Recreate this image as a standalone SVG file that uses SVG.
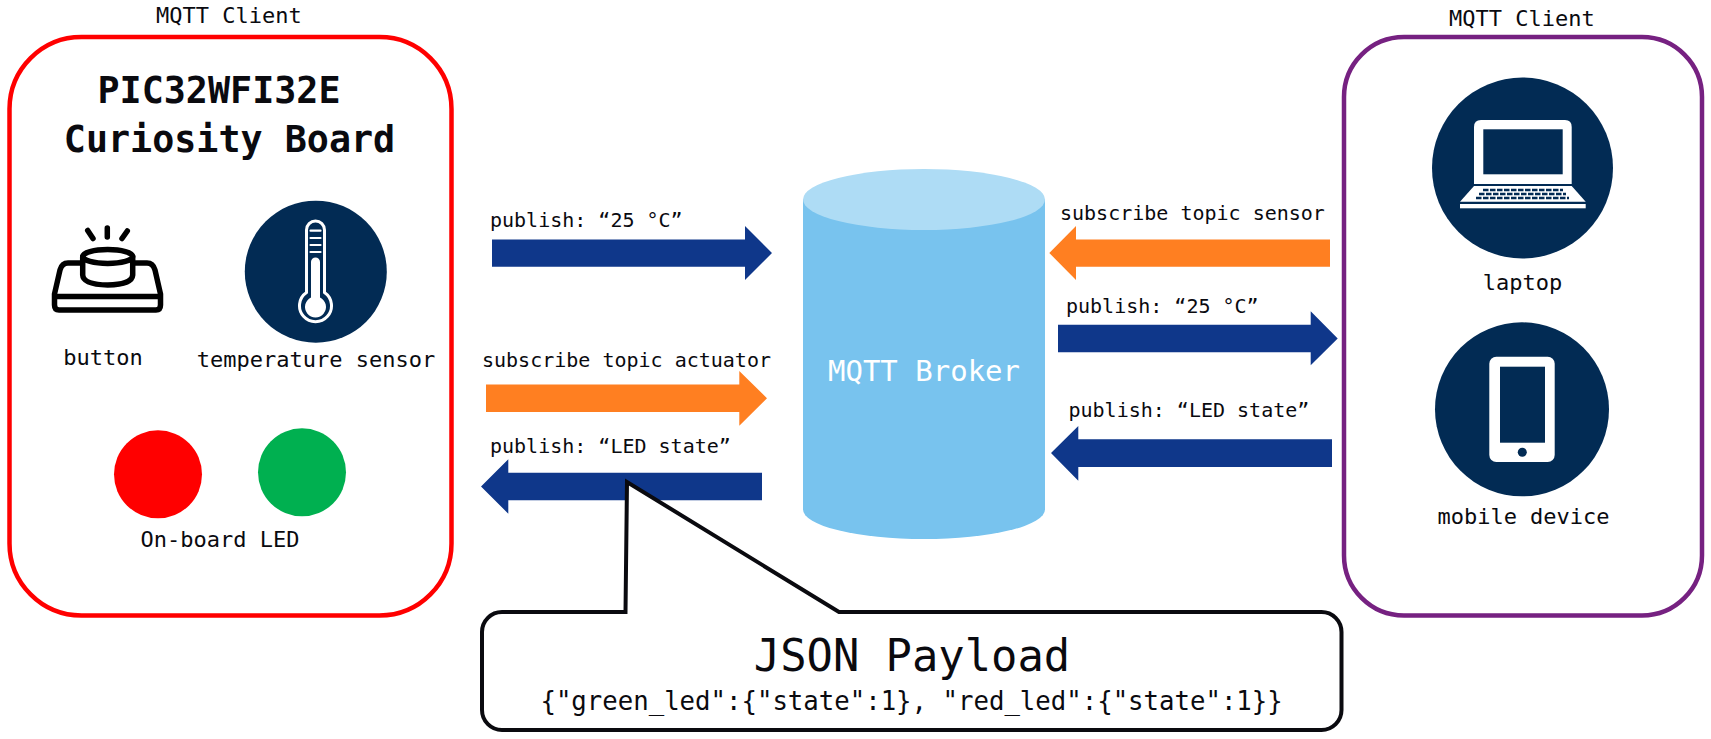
<svg xmlns="http://www.w3.org/2000/svg" width="1711" height="739" viewBox="0 0 1711 739">
<style>
text{font-family:"DejaVu Sans Mono","Liberation Mono",monospace;fill:#0a0a0f}
.lbl{font-size:20px}
.cap{font-size:22px}
.title{font-size:36.700px;font-weight:700}
.blue{fill:#0f378a}
.orange{fill:#ff7f21}
.box{fill:#fff;stroke-width:4.500}
.navy{fill:#022b54}
.w{fill:#fff}
.ws{fill:none;stroke:#fff;stroke-linecap:round}
.k{fill:none;stroke:#000;stroke-width:5.500;stroke-linecap:round;stroke-linejoin:round}
</style>
<rect width="1711" height="739" fill="#fff"/>

<g id="board-client">
<text class="cap" x="156" y="22.500">MQTT Client</text>
<rect class="box" x="9.500" y="37" width="442" height="578.500" rx="72" ry="72" stroke="#ff0000"/>
<text class="title" x="219" y="103" text-anchor="middle">PIC32WFI32E</text>
<text class="title" x="229.500" y="152" text-anchor="middle">Curiosity Board</text>
</g>

<g id="button">
<path class="k" d="M87.700,230.500L93,238.500M107.300,228V237M127.300,231L122,238.500"/>
<path class="k" d="M81,263H68Q62,263 60,270L54.500,294V305Q54.500,310 59,310H156Q160.500,310 160.500,305V294L155,270Q153,263 147,263H134"/>
<path class="k" d="M55,296.500H160"/>
<ellipse cx="107.700" cy="256.500" rx="25" ry="7" fill="#fff" stroke="#000" stroke-width="5.500"/>
<path class="k" d="M82.700,257V275Q83,284.500 107.700,285Q132,284.500 132.700,275V257"/>
<text class="cap" x="103" y="364.700" text-anchor="middle">button</text>
</g>

<g id="temperature-sensor">
<circle class="navy" cx="315.800" cy="271.700" r="71"/>
<path class="ws" stroke-width="3" d="M306.500,230A9,9 0 0 1 324.500,230V292.500A16,16 0 1 1 306.500,292.500Z"/>
<path class="ws" stroke-width="2.200" stroke-linecap="butt" d="M310.500,230.700H320.500M310.500,238H320.500M310.500,245H320.500M310.500,252H320.500"/>
<path class="w" d="M311,262A4.500,4.500 0 0 1 320,262V297.500A10.500,10.500 0 1 1 311,297.500Z"/>
<text class="cap" x="316" y="367.300" text-anchor="middle">temperature sensor</text>
</g>

<g id="on-board-led">
<circle cx="158" cy="474.300" r="44" fill="#ff0000"/>
<circle cx="302" cy="472.300" r="44" fill="#00b050"/>
<text class="cap" x="220" y="547.300" text-anchor="middle">On-board LED</text>
</g>

<g id="mqtt-broker">
<path d="M803,199V509.500A121,29.500 0 0 0 1045,509.500V199Z" fill="#78c3ee"/>
<ellipse cx="924" cy="199.500" rx="121" ry="30.500" fill="#aedcf5"/>
<text x="924" y="380.500" text-anchor="middle" style="font-size:29px;fill:#fff">MQTT Broker</text>
</g>

<g id="connectors">
<polygon class="blue" points="492,239.500 745,239.500 745,226 772,253 745,280 745,266.700 492,266.700"/>
<text class="lbl" x="490" y="226.500">publish: “25 °C”</text>
<polygon class="orange" points="486,384.500 739.300,384.500 739.300,371 767,398.300 739.300,425.700 739.300,412 486,412"/>
<text class="lbl" x="482" y="366.700">subscribe topic actuator</text>
<polygon class="blue" points="762,472.700 508.300,472.700 508.300,459.300 481,486.500 508.300,513.700 508.300,500.300 762,500.300"/>
<text class="lbl" x="490" y="452.700">publish: “LED state”</text>
<polygon class="orange" points="1330,239.500 1076,239.500 1076,226 1049.300,253 1076,280 1076,266.700 1330,266.700"/>
<text class="lbl" x="1060" y="220">subscribe topic sensor</text>
<polygon class="blue" points="1058,324.700 1310.700,324.700 1310.700,311.300 1337.700,338.500 1310.700,365.300 1310.700,352.300 1058,352.300"/>
<text class="lbl" x="1066" y="312.700">publish: “25 °C”</text>
<polygon class="blue" points="1332,439.300 1078.300,439.300 1078.300,426 1051,453 1078.300,480.700 1078.300,467 1332,467"/>
<text class="lbl" x="1068.500" y="416.700">publish: “LED state”</text>
</g>

<g id="mobile-client">
<text class="cap" x="1449" y="26">MQTT Client</text>
<rect class="box" x="1344" y="37" width="358" height="578.500" rx="60" ry="60" stroke="#762181" fill="none"/>
</g>

<g id="laptop">
<circle class="navy" cx="1522.500" cy="168" r="90.500"/>
<path class="w" d="M1474,184V127Q1474,120 1481,120H1565Q1571.700,120 1571.700,127V184Z"/>
<rect class="navy" x="1483.300" y="129.300" width="79.400" height="45"/>
<polygon class="w" points="1474,186 1571.700,186 1585.700,201.700 1460,201.700"/>
<rect class="w" x="1460" y="204" width="125.700" height="4.300"/>
<path d="M1483,190H1563M1479,194H1566M1476,198H1569" fill="none" stroke="#022b54" stroke-width="2.600" stroke-dasharray="5.500 1.500"/>
<text class="cap" x="1522.500" y="290" text-anchor="middle">laptop</text>
</g>

<g id="mobile-device">
<circle class="navy" cx="1522" cy="409.300" r="87"/>
<rect class="w" x="1489.300" y="356.700" width="65.400" height="105.300" rx="7"/>
<rect class="navy" x="1500" y="366.700" width="45" height="76"/>
<circle class="navy" cx="1522.300" cy="452.300" r="4.500"/>
<text class="cap" x="1523.500" y="524" text-anchor="middle">mobile device</text>
</g>

<g id="json-payload">
<path d="M502,612H625.500L627,482L839,612H1321.500A20,20 0 0 1 1341.500,632V710A20,20 0 0 1 1321.500,730H502A20,20 0 0 1 482,710V632A20,20 0 0 1 502,612Z" fill="#fff" stroke="#0a0a0f" stroke-width="4" stroke-linejoin="miter"/>
<text x="912" y="670.700" text-anchor="middle" style="font-size:43.800px">JSON Payload</text>
<text x="911.600" y="710" text-anchor="middle" style="font-size:25.700px">{"green_led":{"state":1}, "red_led":{"state":1}}</text>
</g>
</svg>
